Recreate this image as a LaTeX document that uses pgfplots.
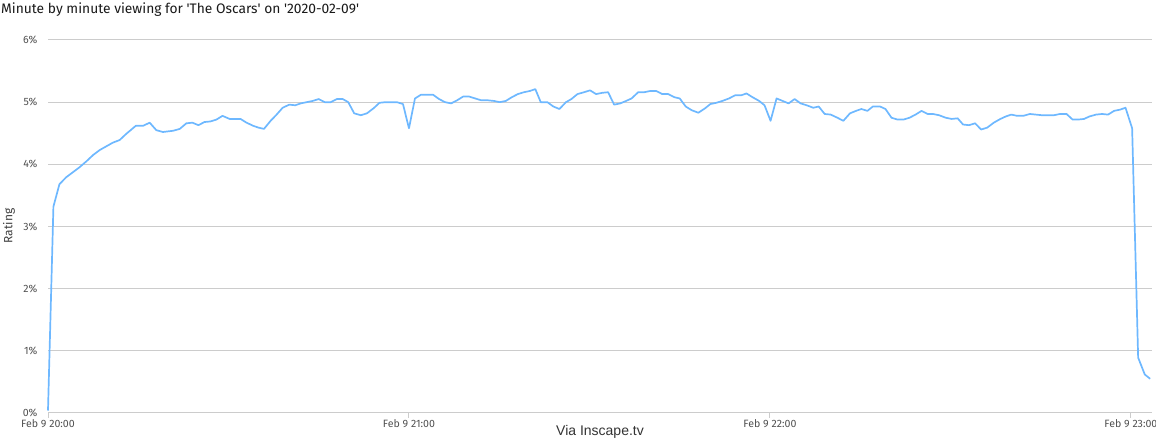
\documentclass[border=0pt]{standalone}
\usepackage{pgfplots}
\pgfplotsset{compat=1.18}
\usepackage{fontspec}
\setmainfont{Fira Sans}
\newfontfamily\arialfont{Liberation Sans}
\definecolor{linecol}{RGB}{110,184,255}
\definecolor{gridcol}{RGB}{204,204,204}
\definecolor{ticktext}{RGB}{80,80,80}
\begin{document}
\begin{tikzpicture}[x=1pt,y=1pt]
\path[use as bounding box] (-48pt,-28pt) rectangle (1108pt,413pt);
\begin{axis}[
  at={(0pt,0pt)}, anchor=south west,
  scale only axis, width=1104pt, height=373pt,
  xmin=0, xmax=183.5, ymin=0, ymax=6,
  axis line style={draw=none},
  ymajorgrids, grid style={gridcol, line width=1pt},
  xtick={0,60,120,180},
  xticklabels={Feb 9 20:00,Feb 9 21:00,Feb 9 22:00,Feb 9 23:00},
  ytick={0,1,2,3,4,5,6},
  yticklabels={0\%,1\%,2\%,3\%,4\%,5\%,6\%},
  xtick pos=left, ytick pos=left,
  tick align=outside, major tick length=5pt,
  xtick style={gridcol, line width=1pt},
  ytick style={draw=none},
  ticklabel style={font=\fontsize{10.6}{12}\selectfont, text=ticktext},
  yticklabel style={xshift=-2pt},
  xticklabel style={yshift=1.5pt},
  clip=false,
]
\addplot[linecol, line width=1.7pt, line join=round] coordinates {
(0,0.04) (0.9,3.32) (1.9,3.68) (3.0,3.79) (4.1,3.87) (5.2,3.95) (6.4,4.05)
(7.5,4.15) (8.6,4.23) (9.7,4.29) (10.8,4.35) (11.9,4.39) (13.0,4.49) (14.6,4.62)
(15.8,4.62) (16.9,4.67) (18.0,4.55) (19.1,4.52) (20.8,4.54) (21.9,4.57) (23.0,4.66)
(24.0,4.67) (25.0,4.63) (26.0,4.68) (27.0,4.69) (28.0,4.72) (29.0,4.78) (30.2,4.73)
(31.3,4.73) (32.0,4.73) (33.0,4.67) (34.1,4.62) (35.0,4.59) (35.9,4.57) (37.0,4.70)
(38.0,4.80) (39.0,4.91) (40.1,4.96) (41.1,4.95) (42.0,4.98) (43.0,5.00) (44.0,5.02)
(45.0,5.05) (46.0,5.00) (47.0,5.00) (48.0,5.05) (49.0,5.05) (49.9,5.00) (50.9,4.82)
(52.0,4.79) (53.0,4.82) (54.1,4.90) (55.1,4.99) (56.1,5.00) (57.1,5.00) (58.0,5.00)
(59.0,4.97) (60.0,4.58) (61.0,5.06) (62.0,5.12) (63.0,5.12) (64.0,5.12) (65.0,5.05)
(66.0,5.00) (67.0,4.98) (68.0,5.03) (69.0,5.09) (70.0,5.09) (71.0,5.06) (72.0,5.03)
(73.1,5.03) (74.1,5.02) (75.1,5.00) (76.1,5.02) (77.1,5.08) (78.1,5.13) (79.1,5.16)
(80.1,5.18) (81.0,5.21) (81.9,5.00) (83.0,5.00) (84.0,4.93) (85.0,4.89) (86.1,5.00)
(87.0,5.05) (88.0,5.13) (89.1,5.16) (90.1,5.19) (91.1,5.13) (92.1,5.15) (93.1,5.16)
(94.1,4.96) (95.1,4.98) (96.1,5.02) (97.0,5.06) (98.1,5.16) (99.1,5.16) (100.1,5.18)
(101.1,5.18) (102.1,5.13) (103.1,5.13) (104.1,5.08) (105.0,5.06) (106.0,4.93) (107.0,4.87)
(108.1,4.83) (109.2,4.90) (110.1,4.97) (111.1,4.99) (112.1,5.02) (113.2,5.06) (114.2,5.11)
(115.2,5.11) (116.1,5.14) (117.1,5.08) (118.2,5.02) (119.1,4.95) (120.1,4.70) (121.1,5.06)
(122.1,5.02) (123.1,4.98) (124.1,5.05) (125.1,4.98) (126.1,4.95) (127.2,4.91) (128.1,4.93)
(129.1,4.81) (130.1,4.80) (131.2,4.75) (132.2,4.70) (133.3,4.82) (134.3,4.86) (135.2,4.89)
(136.2,4.86) (137.1,4.93) (138.3,4.93) (139.2,4.89) (140.2,4.75) (141.2,4.72) (142.2,4.72)
(143.2,4.75) (144.2,4.80) (145.2,4.86) (146.2,4.81) (147.1,4.81) (148.1,4.79) (149.2,4.75)
(150.2,4.73) (151.2,4.74) (152.1,4.64) (153.1,4.63) (154.1,4.66) (155.1,4.56) (156.1,4.59)
(157.2,4.67) (158.3,4.73) (159.2,4.77) (160.1,4.80) (161.1,4.78) (162.1,4.78) (163.2,4.81)
(164.2,4.80) (165.2,4.79) (166.2,4.79) (167.2,4.79) (168.2,4.81) (169.3,4.81) (170.3,4.72)
(171.2,4.72) (172.2,4.73) (173.1,4.77) (174.2,4.80) (175.2,4.81) (176.2,4.80) (177.2,4.86)
(178.2,4.88) (179.1,4.91) (180.2,4.58) (181.2,0.89) (182.3,0.62) (183.2,0.55)
};
\end{axis}
\node[anchor=base west, inner sep=0pt, font=\fontsize{13.8}{16}\selectfont, text=black!90] at (-47pt,399pt) {Minute by minute viewing for \textquotesingle The Oscars\textquotesingle\ on \textquotesingle 2020-02-09\textquotesingle};
\node[rotate=90, inner sep=0pt, font=\fontsize{12}{14}\selectfont, text=black!75] at (-39pt,187pt) {Rating};
\node[inner sep=0pt, font=\arialfont\fontsize{14}{16}\selectfont, text=black!80] at (552pt,-19pt) {Via Inscape.tv};
\end{tikzpicture}
\end{document}
